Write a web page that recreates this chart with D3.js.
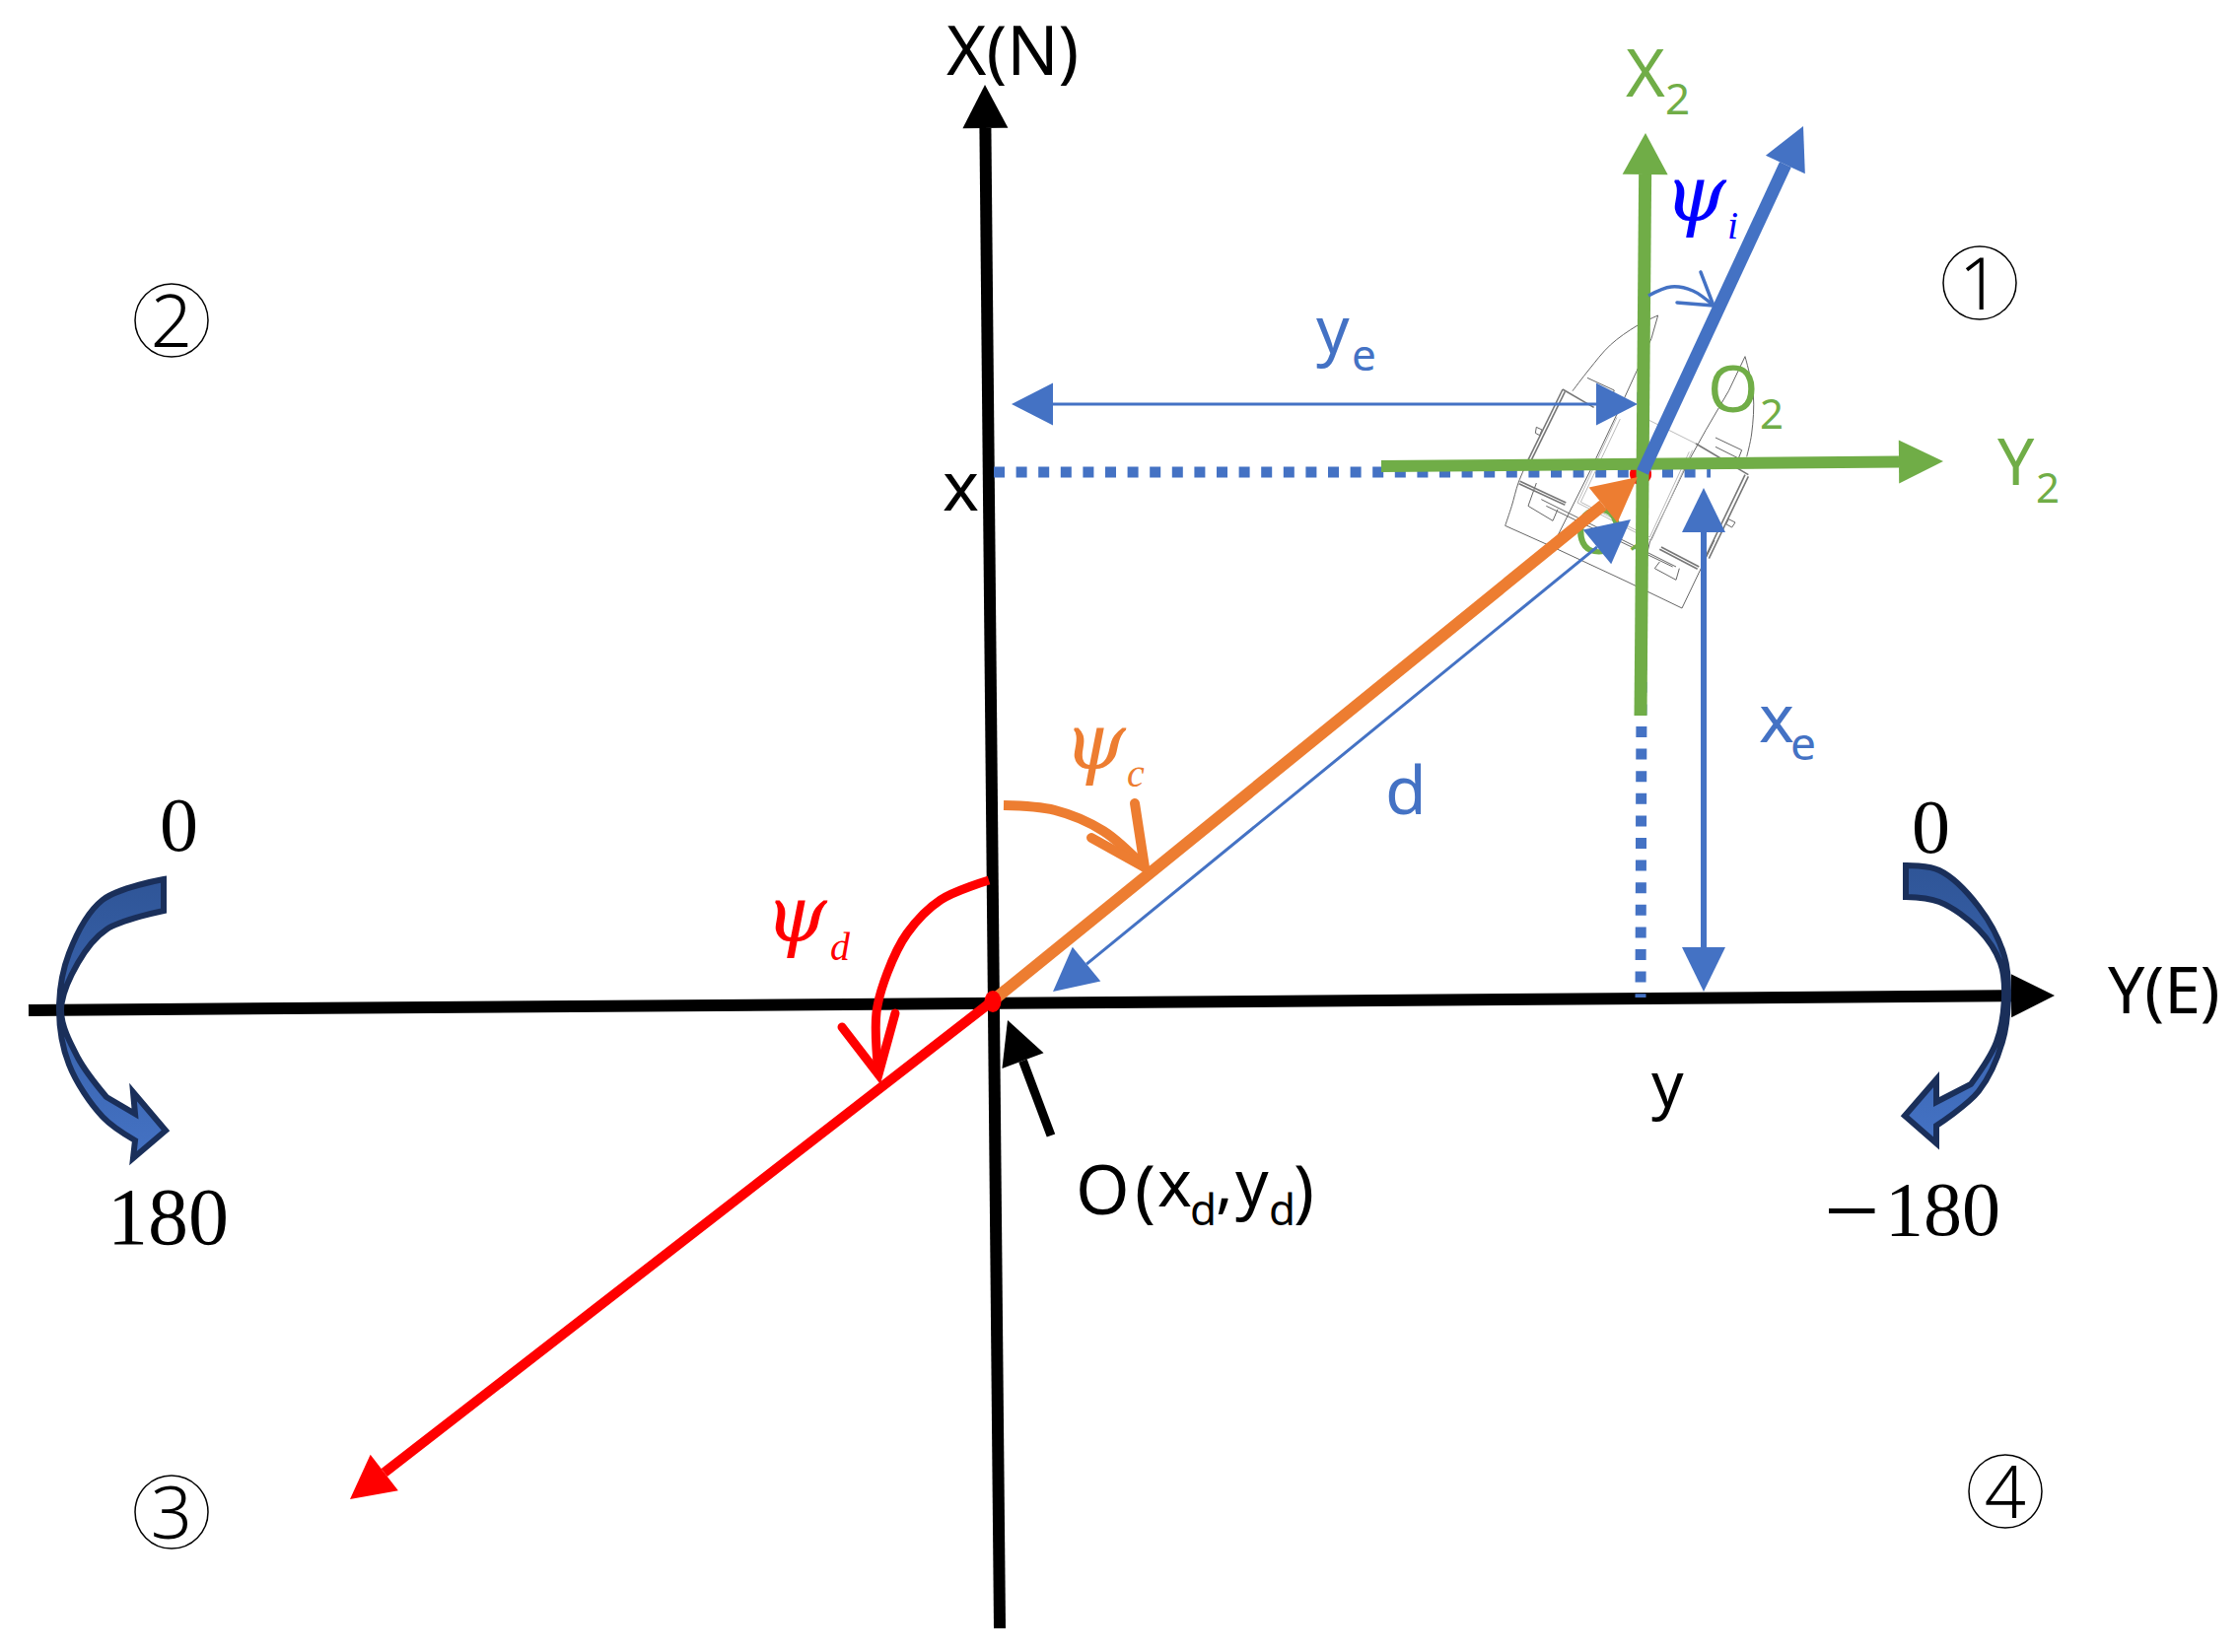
<!DOCTYPE html>
<html>
<head>
<meta charset="utf-8">
<title>Heading and position error diagram</title>
<script src="https://cdn.jsdelivr.net/npm/d3@7"></script>
<style>
  html, body { margin: 0; background: #fff; }
  svg { display: block; }
  .sans { font-family: "Noto Sans", sans-serif; }
  .thin { font-family: "Noto Sans", sans-serif; font-weight: 300; }
  .serif { font-family: "Liberation Serif", serif; }
  .greek { font-family: "Liberation Serif", serif; font-style: italic; }
  .greek tspan:first-child { font-family: "DejaVu Serif", serif; }
</style>
</head>
<body>
<svg id="chart" width="2272" height="1676"></svg>
<script>
// everything is in diagram units: east / north of the point O
const origin = [0, 0];
const shipAt = [658, 535];

// [from, to]
const northAxis = [[8, -636], [-7, 930]];
const eastAxis = [[-977, -9], [1078, 6]];
const x2Axis = [[658, 290], [663, 881]];
const y2Axis = [[395, 543], [965, 548]];
const headingRay = [[660, 537], [823, 888]];
const courseRay = [[0, 0], [655, 532]];
const desiredRay = [[0, 0], [-651, -505]];
const distanceSpan = [[62, 10], [648, 489]];
const yeSpan = [[20, 606], [655, 606]];
const xeSpan = [[722, 10], [722, 521]];
const pointerToO = [[60, -136], [16, -19]];
const dottedEast = [[2, 537], [729, 537]];
const dottedNorth = [[660, 618], [658, 4]];

// angle marks, then the two arms of each open arrow head
const psiCArc = [[12, 199], [64, 194], [113, 173], [155, 136]];
const psiCArms = [[145, 201], [155, 136], [101, 166]];
const psiDArc = [[-3, 123], [-52, 103], [-86, 69], [-106, 29], [-117, -11], [-115, -74]];
const psiDArms = [[-98, -12], [-115, -74], [-152, -26]];
const psiIArc = [[666, 716], [689, 725], [711, 721], [732, 706]];
const psiIArms = [[719, 740], [732, 706], [695, 709]];

// the curved block arrows on both ends of the east axis
const leftBendOuter = [[-840, 124], [-902, 103], [-936, 49], [-946, -9], [-936, -64], [-902, -117], [-869, -141]];
const leftBendHead = [[-871, -159], [-838, -131], [-871, -92], [-869, -114]];
const leftBendInner = [[-898, -97], [-927, -57], [-944, -9], [-927, 39], [-898, 73], [-840, 92]];
const rightBendOuter = [[927, 138], [961, 133], [1001, 96], [1027, 46], [1031, 6], [1025, -41], [1001, -91], [958, -126]];
const rightBendHead = [[958, -144], [926, -116], [958, -79], [958, -102]];
const rightBendInner = [[993, -84], [1019, -41], [1027, 6], [1023, 39], [1001, 73], [961, 101], [927, 106]];

// ship sketch, traced in a 900 x 900 box around the ship
const hullLines = [
  [[545, 60], [480, 92], [400, 150], [335, 225], [285, 290]],
  [[150, 500], [120, 570], [100, 640], [80, 700]],
  [[810, 185], [835, 300], [830, 420], [815, 490]]
];
const straightLines = [
  [[545, 60], [525, 130], [480, 230], [425, 350], [340, 530], [225, 760]],
  [[80, 700], [225, 765], [450, 870], [618, 951], [717, 744]],
  [[810, 185], [760, 290], [690, 410], [640, 500], [520, 750], [495, 860]],
  [[190, 620], [600, 825]],
  [[205, 640], [590, 825]],
  [[175, 570], [150, 640], [225, 685], [240, 650]],
  [[550, 810], [535, 830], [600, 865], [610, 830]],
  [[720, 432], [800, 470], [790, 495], [720, 460]],
  [[330, 250], [412, 288], [395, 330]],
  [[175, 400], [192, 408], [185, 425], [172, 418], [175, 400]],
  [[760, 680], [780, 690], [770, 705], [752, 695], [760, 680]]
];
const railLines = [
  [[255, 285], [150, 500]],
  [[262, 292], [160, 500]],
  [[255, 285], [350, 340]],
  [[125, 565], [265, 630]],
  [[122, 572], [262, 637]],
  [[820, 550], [700, 800]],
  [[810, 545], [692, 790]],
  [[660, 450], [820, 545]],
  [[555, 765], [670, 825]],
  [[550, 772], [665, 832]]
];
const deckLines = [
  [[480, 360], [660, 450]],
  [[420, 370], [300, 630], [525, 745], [650, 470]],
  [[430, 375], [310, 628], [520, 735], [640, 475]]
];

const quadrantNames = ["1", "2", "3", "4"];
const quadrantAt = [[1002, 729], [-832, 691], [-832, -518], [1028, -497]];
const rangeNames = ["0", "180", "0"];
const rangeAt = [[-844, 153], [-897, -246], [933, 151]];

const width = 2272, height = 1676;
const x = d3.scaleLinear().domain([-1006, 1266]).range([0, width]);
const y = d3.scaleLinear().domain([1016, -660]).range([0, height]);
const boatX = d3.scaleLinear().domain([0, 900]).range([1500, 1800]);
const boatY = d3.scaleLinear().domain([0, 900]).range([300, 600]);

const blue = "#4472c4", green = "#70ad47", orange = "#ed7d31", red = "#ff0000";
const svg = d3.select("#chart");

const defs = svg.append("defs");
const grad = defs.append("linearGradient").attr("id", "bend").attr("x1", 0).attr("y1", 0).attr("x2", 0).attr("y2", 1);
grad.append("stop").attr("offset", "0%").attr("stop-color", "#2f5597");
grad.append("stop").attr("offset", "100%").attr("stop-color", "#4472c4");

const straight = d3.line().x(d => x(d[0])).y(d => y(d[1]));
const curved = d3.line().x(d => x(d[0])).y(d => y(d[1])).curve(d3.curveCatmullRom.alpha(0.5));

// line with a filled triangle on the "to" end (and the "from" end if both)
function arrow(span, color, lineW, headL, headW, both) {
  const a = [x(span[0][0]), y(span[0][1])], b = [x(span[1][0]), y(span[1][1])];
  const len = Math.hypot(b[0] - a[0], b[1] - a[1]);
  const ux = (b[0] - a[0]) / len, uy = (b[1] - a[1]) / len;
  const start = both ? headL : 0;
  svg.append("line")
    .attr("x1", a[0] + ux * start).attr("y1", a[1] + uy * start)
    .attr("x2", b[0] - ux * headL).attr("y2", b[1] - uy * headL)
    .attr("stroke", color).attr("stroke-width", lineW);
  const head = (tip, dx, dy) => {
    const bx = tip[0] - dx * headL, by = tip[1] - dy * headL;
    const pts = [tip, [bx - dy * headW / 2, by + dx * headW / 2], [bx + dy * headW / 2, by - dx * headW / 2]];
    svg.append("polygon").attr("points", pts.join(" ")).attr("fill", color);
  };
  head(b, ux, uy);
  if (both) head(a, -ux, -uy);
}

function openArc(arc, arms, color, w) {
  svg.append("path").attr("d", curved(arc)).attr("fill", "none").attr("stroke", color).attr("stroke-width", w);
  svg.append("path").attr("d", straight(arms)).attr("fill", "none").attr("stroke", color)
    .attr("stroke-width", w).attr("stroke-linecap", "round").attr("stroke-linejoin", "miter");
}

function bend(outer, headPts, inner) {
  const d = curved(outer) + "L" + headPts.map(p => [x(p[0]), y(p[1])].join(",")).join("L") +
    "L" + curved(inner).slice(1) + "Z";
  svg.append("path").attr("d", d).attr("fill", "url(#bend)").attr("stroke", "#1a2f5a")
    .attr("stroke-width", 6).attr("stroke-linejoin", "miter");
}

function dotted(span, w) {
  svg.append("path").attr("d", straight(span)).attr("fill", "none").attr("stroke", blue)
    .attr("stroke-width", w).attr("stroke-dasharray", "11 11.6");
}

// parts: [string, dx, baseline shift, size]
function label(cls, color, at, parts) {
  const t = svg.append("text").attr("class", cls).attr("fill", color);
  parts.forEach(p => {
    t.append("tspan").attr("x", x(at[0]) + p[1]).attr("y", y(at[1]) + p[2])
      .attr("font-size", p[3]).text(p[0]);
  });
}

// axes
arrow(northAxis, "#000", 12, 44, 46);
arrow(eastAxis, "#000", 12, 44, 44);
dotted(dottedEast, 11);
dotted(dottedNorth, 11);

// ship
const boat = svg.append("g").attr("fill", "none");
const boatCurve = d3.line().x(d => boatX(d[0])).y(d => boatY(d[1])).curve(d3.curveCatmullRom);
const boatStraight = d3.line().x(d => boatX(d[0])).y(d => boatY(d[1]));
hullLines.forEach(l => boat.append("path").attr("d", boatCurve(l)).attr("stroke", "#666").attr("stroke-width", 1));
straightLines.forEach(l => boat.append("path").attr("d", boatStraight(l)).attr("stroke", "#666").attr("stroke-width", 1));
railLines.forEach(l => boat.append("path").attr("d", boatStraight(l)).attr("stroke", "#777").attr("stroke-width", 1.6));
deckLines.forEach(l => boat.append("path").attr("d", boatStraight(l)).attr("stroke", "#bbb").attr("stroke-width", 1));

// O1 is mostly hidden under the arrows
label("sans", green, [590, 454], [["O", 0, 0, 66], ["1", 54, 18, 42]]);

svg.append("circle").attr("cx", x(shipAt[0])).attr("cy", y(shipAt[1])).attr("r", 11).attr("fill", red);

// bars through the ship
arrow(x2Axis, green, 13, 42, 46);
arrow(y2Axis, green, 12, 45, 44);
arrow(headingRay, blue, 13, 43, 44);
arrow(desiredRay, red, 10, 44, 46);
arrow(courseRay, orange, 12, 45, 46);
arrow(distanceSpan, blue, 3, 44, 45, true);
arrow(yeSpan, blue, 3, 42, 43, true);
arrow(xeSpan, blue, 6, 45, 44, true);
arrow(pointerToO, "#000", 9, 44, 45);

svg.append("ellipse").attr("cx", x(origin[0]) + 1).attr("cy", y(origin[1]))
  .attr("rx", 8.5).attr("ry", 11).attr("fill", red);

// angle marks
openArc(psiCArc, psiCArms, orange, 10);
openArc(psiDArc, psiDArms, red, 9);
openArc(psiIArc, psiIArms, blue, 3.5);

// range arrows
bend(leftBendOuter, leftBendHead, leftBendInner);
bend(rightBendOuter, rightBendHead, rightBendInner);

// text
label("sans", "#000", [-46, 940], [["X(N)", 0, 0, 69]]);
label("sans", "#000", [1132, -12], [["Y(E)", 0, 0, 66]]);
label("sans", green, [643, 918], [["X", 0, 0, 68], ["2", 40, 18, 44]]);
label("sans", green, [726, 598], [["O", 0, 0, 66], ["2", 53, 17, 42]]);
label("sans", green, [1020, 524], [["Y", 0, 0, 66], ["2", 39, 18, 42]]);
label("greek", "#0000ff", [682, 792], [["ψ", 0, 0, 80], ["i", 64, 18, 40]]);
label("greek", orange, [73, 236], [["ψ", 0, 0, 80], ["c", 64, 18, 40]]);
label("greek", red, [-230, 61], [["ψ", 0, 0, 80], ["d", 66, 19, 40]]);
label("sans", blue, [329, 658], [["y", 0, 0, 66], ["e", 36, 18, 44]]);
label("sans", blue, [778, 263], [["x", 0, 0, 68], ["e", 32, 18, 46]]);
label("sans", blue, [399, 190], [["d", 0, 0, 68]]);
label("sans", "#000", [-50, 498], [["x", 0, 0, 70]]);
label("sans", "#000", [669, -107], [["y", 0, 0, 64]]);
label("sans", "#000", [85, -216], [
  ["O", 0, 0, 70], ["(", 60, 0, 70], ["x", 83, -8, 66], ["d", 116, 11, 44], [",", 142, -8, 66],
  ["y", 162, -8, 66], ["d", 196, 11, 44], [")", 221, 0, 70]
]);

rangeNames.forEach((s, i) => {
  svg.append("text").attr("class", "serif").attr("x", x(rangeAt[i][0])).attr("y", y(rangeAt[i][1]))
    .attr("font-size", i === 1 ? 82 : 78).attr("fill", "#000").text(s);
});
label("serif", "#000", [846, -237], [["−", -2, 9, 100], ["180", 60, 0, 78]]);

// quadrant numbers
quadrantNames.forEach((s, i) => {
  const cx = x(quadrantAt[i][0]), cy = y(quadrantAt[i][1]);
  svg.append("circle").attr("cx", cx).attr("cy", cy).attr("r", 37)
    .attr("fill", "none").attr("stroke", "#000").attr("stroke-width", 1.5);
  svg.append("text").attr("class", "thin").attr("x", cx).attr("y", cy + 27)
    .attr("text-anchor", "middle").attr("font-size", 74).attr("fill", "#000").text(s);
});
</script>
</body>
</html>
